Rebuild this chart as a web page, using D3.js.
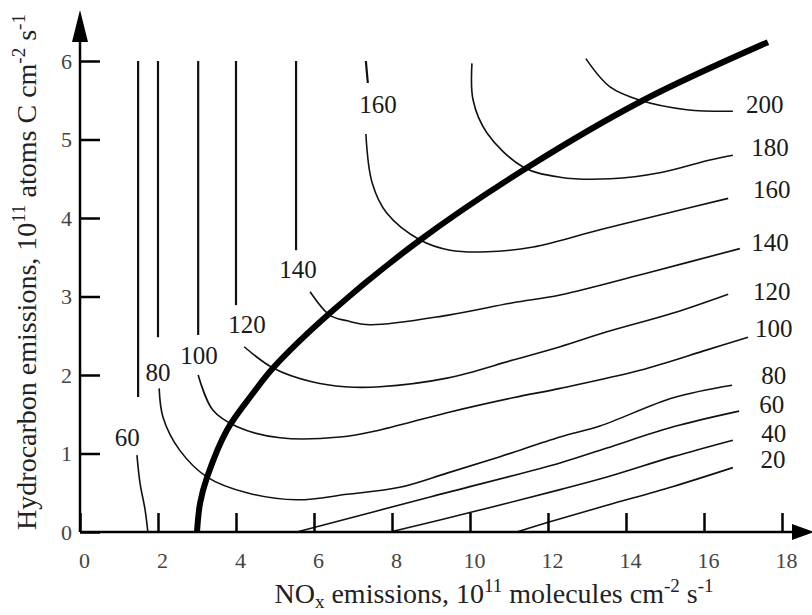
<!DOCTYPE html>
<html>
<head>
<meta charset="utf-8">
<script src="https://cdn.jsdelivr.net/npm/d3@7"></script>
<style>
body { margin: 0; background: #fff; }
svg text { font-family: "Liberation Serif", "Times New Roman", serif; }
</style>
</head>
<body>
<svg id="chart" width="812" height="615"></svg>
<script>
// axis ticks
var xTicks = [0, 2, 4, 6, 8, 10, 12, 14, 16, 18];
var yTicks = [0, 1, 2, 3, 4, 5, 6];

// thick ridge line (NOx-limited / VOC-limited divide), [NOx, HC]
var ridge = [[3.0, 0], [3.08, 0.37], [3.26, 0.70], [3.77, 1.30], [4.44, 1.77], [4.95, 2.09],
	[6.41, 2.79], [8.72, 3.72], [11.46, 4.64], [14.44, 5.50], [17.64, 6.24]];

// ozone isopleths (ppb), each one a list of pieces, broken where its label sits
var iso20 = [[[11.2, 0], [12.05, 0.13], [13.51, 0.34], [15.21, 0.58], [16.74, 0.82]]];
var iso40 = [[[7.95, 0], [10.1, 0.26], [12.31, 0.54], [13.51, 0.70], [15.21, 0.96], [16.74, 1.17]]];
var iso60 = [
	[[1.49, 6], [1.49, 1.72]],
	[[1.46, 0.98], [1.54, 0.62], [1.67, 0.28], [1.74, 0]],
	[[5.56, 0], [9.0, 0.45], [12.31, 0.88], [13.51, 1.07], [15.21, 1.34], [16.9, 1.54]]
];
var iso80 = [
	[[2.0, 6], [2.0, 2.48]],
	[[2.03, 1.83], [2.13, 1.46], [2.56, 1.04], [3.26, 0.70], [4.28, 0.50], [5.56, 0.41], [6.85, 0.48],
		[8.2, 0.57], [9.41, 0.75], [10.77, 0.96], [12.31, 1.21], [13.33, 1.35], [15.21, 1.71], [16.72, 1.87]]
];
var iso100 = [
	[[3.03, 6], [3.03, 2.51]],
	[[3.03, 2.0], [3.41, 1.55], [4.03, 1.34], [5.13, 1.20], [6.67, 1.21], [7.69, 1.30], [9.41, 1.52],
		[11.1, 1.71], [12.31, 1.83], [14.36, 2.06], [16.08, 2.32], [17.13, 2.48]]
];
var iso120 = [
	[[4.0, 6], [4.0, 2.89]],
	[[4.21, 2.36], [4.95, 2.09], [5.97, 1.91], [6.79, 1.85], [7.69, 1.85], [9.41, 1.96], [11.1, 2.19],
		[12.31, 2.36], [13.51, 2.55], [15.21, 2.79], [16.62, 3.03]]
];
var iso140 = [
	[[5.54, 6], [5.54, 3.59]],
	[[5.9, 3.06], [6.41, 2.76], [6.85, 2.69], [7.44, 2.64], [9.41, 2.76], [11.1, 2.92], [12.31, 3.02],
		[14.62, 3.31], [16.92, 3.61]]
];
var iso160 = [
	[[7.33, 6.0], [7.38, 5.72]],
	[[7.33, 5.07], [7.49, 4.45], [7.87, 4.06], [8.72, 3.72], [9.49, 3.59], [10.44, 3.57], [11.62, 3.63],
		[13.33, 3.85], [15.05, 4.06], [16.62, 4.25]]
];
var iso180 = [[[10.05, 5.97], [10.08, 5.5], [10.44, 5.08], [11.36, 4.65], [12.31, 4.52], [13.6, 4.5],
	[14.9, 4.58], [16.15, 4.74], [16.74, 4.8]]];
var iso200 = [[[12.97, 6.03], [13.59, 5.67], [14.36, 5.5], [15.56, 5.38], [16.74, 5.36]]];

// label text and where it sits, [ppb, NOx, HC]
var isoLabels = [
	[60, 1.21, 1.2], [80, 2.0, 2.03], [100, 3.05, 2.25], [120, 4.28, 2.64], [140, 5.59, 3.34], [160, 7.64, 5.44],
	[200, 17.56, 5.44], [180, 17.69, 4.9], [160, 17.74, 4.36], [140, 17.69, 3.69], [120, 17.74, 3.07],
	[100, 17.79, 2.59], [80, 17.79, 1.99], [60, 17.74, 1.63], [40, 17.79, 1.26], [20, 17.77, 0.92]
];

var xTitle = [['NO', ''], ['x', 'sub'], [' emissions, 10', ''], ['11', 'sup'], [' molecules cm', ''], ['-2', 'sup'], [' s', ''], ['-1', 'sup']];
var yTitle = [['Hydrocarbon emissions, 10', ''], ['11', 'sup'], [' atoms C cm', ''], ['-2', 'sup'], [' s', ''], ['-1', 'sup']];

var svg = d3.select('#chart');
var x = d3.scaleLinear().domain([0, 18]).range([80, 782]);
var y = d3.scaleLinear().domain([0, 6]).range([532, 61]);

var line = d3.line()
	.x(function(d) { return x(d[0]); })
	.y(function(d) { return y(d[1]); })
	.curve(d3.curveCatmullRom.alpha(0.5));

drawIsopleths();
drawRidge();
drawAxes();
drawLabels();

function drawIsopleths() {
	var all = [iso20, iso40, iso60, iso80, iso100, iso120, iso140, iso160, iso180, iso200];
	all.forEach(function(iso) {
		iso.forEach(function(piece) {
			svg.append('path')
				.attr('d', line(piece))
				.attr('fill', 'none')
				.attr('stroke', '#111')
				.attr('stroke-width', piece.length == 2 ? 2.2 : 1.6);
		});
	});
}

function drawRidge() {
	svg.append('path')
		.attr('d', line(ridge))
		.attr('fill', 'none')
		.attr('stroke', '#000')
		.attr('stroke-width', 6);
}

function drawAxes() {
	var gx = svg.append('g').attr('transform', 'translate(0,' + y(0) + ')')
		.call(d3.axisBottom(x).tickValues(xTicks).tickFormat(d3.format('d')).tickSize(-19));
	gx.select('.domain').remove();
	gx.selectAll('.tick line').attr('stroke', '#000').attr('stroke-width', 2.5);
	gx.selectAll('.tick text').attr('y', 36).attr('dy', 0).attr('dx', 4)
		.attr('font-size', 22).attr('fill', '#444');

	var gy = svg.append('g').attr('transform', 'translate(' + x(0) + ',0)')
		.call(d3.axisLeft(y).tickValues(yTicks).tickFormat(d3.format('d')).tickSize(-20).tickPadding(8));
	gy.select('.domain').remove();
	gy.selectAll('.tick line').attr('stroke', '#000').attr('stroke-width', 2.5);
	gy.selectAll('.tick text').attr('font-size', 22).attr('fill', '#444').attr('dy', '0.33em');

	// axis lines with arrow heads
	var xEnd = x.range()[1] + 10, yEnd = y.range()[1] - 19;
	svg.append('line').attr('x1', x(0)).attr('y1', y(0)).attr('x2', xEnd).attr('y2', y(0))
		.attr('stroke', '#000').attr('stroke-width', 2.5);
	svg.append('line').attr('x1', x(0)).attr('y1', y(0)).attr('x2', x(0)).attr('y2', yEnd)
		.attr('stroke', '#000').attr('stroke-width', 2.5);
	svg.append('path').attr('d', 'M' + (xEnd + 22) + ',' + y(0) + 'L' + xEnd + ',' + (y(0) - 8) + 'L' + xEnd + ',' + (y(0) + 8) + 'Z');
	svg.append('path').attr('d', 'M' + x(0) + ',' + (yEnd - 32) + 'L' + (x(0) - 8) + ',' + yEnd + 'L' + (x(0) + 8) + ',' + yEnd + 'Z');

	richText(svg.append('text').attr('x', 494).attr('y', 603), xTitle);
	richText(svg.append('text').attr('transform', 'translate(36,272) rotate(-90)'), yTitle);
}

function richText(t, parts) {
	t.attr('text-anchor', 'middle').attr('font-size', 28).attr('fill', '#222');
	var shift = 0;
	parts.forEach(function(p) {
		var want = p[1] == 'sup' ? -11 : (p[1] == 'sub' ? 5 : 0);
		t.append('tspan')
			.attr('dy', want - shift)
			.attr('font-size', p[1] ? 19 : 28)
			.text(p[0]);
		shift = want;
	});
}

function drawLabels() {
	svg.selectAll('text.iso').data(isoLabels).enter().append('text')
		.attr('class', 'iso')
		.attr('x', function(d) { return x(d[1]); })
		.attr('y', function(d) { return y(d[2]); })
		.attr('dy', '0.34em')
		.attr('text-anchor', 'middle')
		.attr('font-size', 25)
		.attr('fill', '#1a1a1a')
		.text(function(d) { return d[0]; });
}
</script>
</body>
</html>
